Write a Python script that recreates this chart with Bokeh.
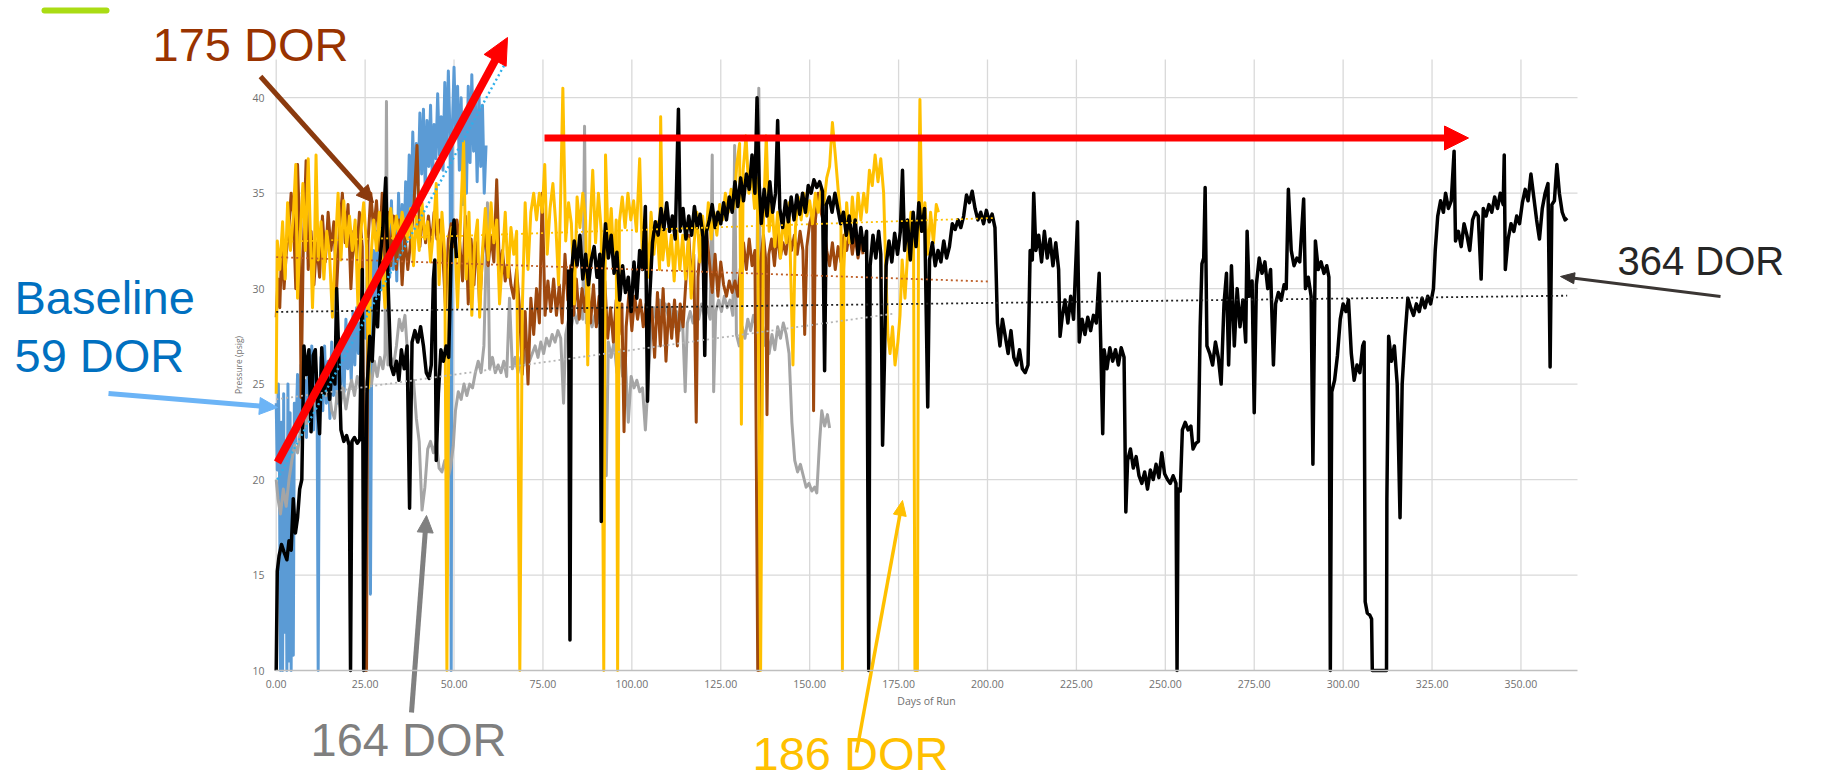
import math
from bokeh.plotting import figure
from bokeh.models import (Range1d, FixedTicker, NumeralTickFormatter, Label)
from bokeh.embed import file_html
from bokeh.resources import INLINE

NAN = float("nan")

# ---------------- data: (day of run, pressure psig) ----------------
blue_series = [
    (0.0, 24.0), (0.3, 20.5), (0.6, 25.0), (0.9, 21.0), (1.2, 10), (1.5, 23.0), (1.8, 10),
    (2.1, 24.5), (2.4, 12), (2.7, 22.0), (3.0, 10), (3.3, 25.0), (3.6, 10.5), (3.9, 23.5),
    (4.2, 10), (4.5, 22.5), (4.8, 10.8), (5.1, 24.0), (5.5, 22.0), (6.0, 25.5), (6.5, 22.5),
    (7.0, 26.0), (7.5, 23.0), (8.0, 25.2), (8.5, 22.2), (9.0, 26.5), (9.5, 23.2), (10.0, 27.0),
    (10.5, 22.6), (11.0, 25.8), (11.5, 24.0), (11.8, 10), (12.1, 23.0), (12.6, 26.4),
    (13.1, 23.6), (13.6, 27.0), (14.1, 24.0), (14.6, 26.2), (15.1, 23.2), (15.6, 27.2),
    (16.1, 24.4), (16.6, 26.6), (17.1, 24.0), (17.6, 27.4), (18.1, 25.0), (18.6, 27.0),
    (19.1, 24.6), (19.6, 28.4), (20.1, 25.8), (20.6, 27.6), (21.1, 25.2), (21.6, 28.8),
    (22.1, 26.0), (22.6, 29.0), (23.1, 26.6), (23.6, 28.2), (24.1, 27.0), (24.6, 29.4),
    (25.1, 27.4), (25.6, 30.6), (26.1, 28.0), (26.5, 14.0), (26.9, 29.0), (27.4, 32.0),
    (27.9, 28.6), (28.4, 33.0), (28.9, 29.4), (29.4, 32.4), (29.9, 30.0), (30.4, 34.0),
    (30.9, 29.2), (31.4, 33.2), (31.9, 30.6), (32.4, 34.6), (32.9, 31.0), (33.4, 33.6),
    (33.9, 30.4), (34.4, 35.0), (34.9, 31.6), (35.4, 34.4), (35.9, 32.0), (36.4, 35.6),
    (36.9, 33.2), (37.4, 37.0), (37.9, 33.8), (38.4, 38.2), (38.9, 34.6), (39.4, 37.6),
    (39.9, 35.4), (40.4, 39.2), (40.9, 36.0), (41.4, 39.4), (41.9, 35.2), (42.4, 38.8),
    (42.9, 36.4), (43.4, 39.6), (43.9, 35.6), (44.4, 38.6), (44.9, 36.8), (45.4, 40.2),
    (45.9, 37.0), (46.4, 39.0), (46.9, 36.2), (47.4, 40.8), (47.9, 37.4), (48.4, 41.4),
    (48.9, 37.8), (49.2, 10), (49.5, 38.2), (50.0, 41.6), (50.5, 38.0), (51.0, 40.6),
    (51.5, 36.2), (52.0, 40.0), (52.5, 34.4), (53.0, 39.2), (53.5, 35.0), (54.0, 40.6),
    (54.5, 36.6), (55.0, 41.2), (55.5, 37.2), (56.0, 39.8), (56.5, 35.6), (57.0, 40.4),
    (57.5, 36.4), (58.0, 39.6), (58.5, 35.0), (59.0, 37.5),
]

gray_series = [
    (0.0, 20.0), (0.5, 19.0), (1.2, 18.2), (2.0, 19.5), (2.8, 18.6), (3.6, 20.0), (4.4, 21.0),
    (5.2, 21.8), (6.0, 21.4), (6.8, 22.6), (7.6, 23.4), (8.4, 22.8), (9.2, 23.8), (10.0, 23.4),
    (10.8, 24.2), (11.6, 24.8), (12.4, 24.2), (13.2, 25.0), (14.0, 24.4), (14.8, 24.8),
    (15.6, 23.6), (16.4, 23.2), (17.2, 24.6), (18.0, 23.8), (18.8, 24.8), (19.6, 23.7),
    (20.4, 24.6), (21.2, 25.2), (22.0, 24.4), (22.8, 25.4), (23.6, 24.8), (24.4, 25.6),
    (25.2, 24.7), (26.0, 25.6), (26.8, 25.0), (27.6, 26.2), (28.4, 25.4), (29.2, 26.4),
    (30.0, 25.8), (30.6, 26.6), (31.0, 39.8), (31.4, 26.0), (32.2, 26.4), (33.0, 26.0),
    (33.8, 27.0), (34.6, 28.4), (35.4, 27.8), (36.2, 28.6), (37.0, 26.4), (37.8, 25.0),
    (38.6, 25.2), (39.4, 23.2), (40.2, 22.0), (41.0, 18.4), (41.8, 19.6), (42.6, 21.6),
    (43.4, 22.0), (44.2, 21.4), (45.0, 22.0), (45.8, 20.6), (46.6, 20.4), (47.4, 21.0),
    (48.2, 20.0), (49.0, 20.6), (49.8, 21.8), (50.4, 23.6), (51.2, 24.6), (52.0, 24.2),
    (52.8, 25.0), (53.6, 24.4), (54.4, 25.0), (55.2, 24.8), (56.0, 25.6), (56.8, 26.2),
    (57.6, 25.6), (58.4, 27.0), (59.4, 34.5), (60.0, 25.8), (60.8, 26.4), (61.6, 25.6),
    (62.4, 26.0), (63.2, 25.6), (64.0, 26.2), (64.8, 25.4), (65.6, 29.5), (66.4, 25.8),
    (67.2, 26.4), (68.0, 25.6), (68.8, 26.4), (69.6, 26.0), (70.4, 26.8), (71.2, 26.2),
    (72.0, 26.6), (72.8, 27.0), (73.6, 26.4), (74.4, 27.2), (75.2, 26.6), (76.0, 27.4),
    (76.8, 27.0), (77.6, 27.6), (78.4, 27.2), (79.2, 27.8), (80.0, 27.4), (80.8, 24.0),
    (81.4, 27.6), (82.2, 28.4), (83.0, 28.0), (83.8, 28.8), (84.6, 28.2), (85.4, 29.0),
    (86.2, 28.4), (86.7, 38.5), (87.2, 28.2), (88.0, 28.6), (88.8, 28.0), (89.6, 28.6),
    (90.4, 28.2), (91.2, 28.8), (92.0, 28.0), (92.8, 20.2), (93.4, 27.2), (94.2, 26.4),
    (95.0, 27.2), (95.8, 25.6), (96.6, 26.8), (97.4, 25.4), (98.2, 26.2), (99.0, 23.0),
    (99.8, 25.4), (100.6, 24.8), (101.4, 25.2), (102.2, 24.6), (103.0, 24.8), (103.8, 22.6),
    (104.6, 25.2), (105.4, 27.8), (106.2, 29.0), (107.0, 28.2), (107.8, 29.4), (108.6, 28.4),
    (109.4, 29.2), (110.2, 28.6), (111.0, 29.0), (111.8, 28.0), (112.6, 28.8), (113.4, 27.8),
    (114.2, 28.6), (115.0, 24.6), (115.6, 28.2), (116.4, 28.8), (117.2, 28.2), (118.0, 29.0),
    (118.8, 28.4), (119.6, 29.2), (120.4, 28.6), (121.2, 29.0), (122.0, 28.4), (122.6, 37.0),
    (123.0, 24.6), (123.6, 28.8), (124.4, 29.4), (125.2, 28.8), (126.0, 29.6), (126.8, 29.0),
    (127.6, 29.4), (128.4, 28.6), (128.9, 37.5), (129.4, 27.6), (130.2, 27.0), (131.0, 28.0),
    (131.8, 27.4), (132.6, 28.4), (133.4, 27.8), (134.2, 28.6), (135.0, 28.0), (135.7, 40.5),
    (136.2, 27.6), (137.0, 27.0), (137.8, 28.0), (138.6, 26.6), (139.4, 27.6), (140.2, 26.8),
    (141.0, 28.0), (141.8, 27.4), (142.6, 28.2), (143.4, 27.6), (144.2, 26.6), (145.0, 23.0),
    (145.8, 21.0), (146.6, 20.4), (147.4, 20.8), (148.2, 20.2), (149.0, 19.6), (149.8, 19.8),
    (150.6, 19.4), (151.4, 19.6), (152.0, 19.3), (152.8, 22.0), (153.4, 23.6), (154.2, 22.8),
    (155.0, 23.4), (155.6, 22.7),
]

brown_series = [
    (0.0, 28.5), (0.5, 30.5), (1.0, 29.0), (1.6, 32.5), (2.2, 30.0), (2.8, 31.8), (3.5, 33.0),
    (4.2, 35.0), (4.8, 34.0), (5.5, 30.0), (6.0, 36.5), (6.6, 33.0), (7.0, 24.3), (7.6, 32.0),
    (8.4, 36.7), (9.0, 31.0), (9.8, 33.0), (10.6, 30.2), (11.4, 32.4), (12.2, 30.6),
    (13.0, 33.8), (13.8, 31.4), (14.6, 34.0), (15.4, 32.0), (16.2, 33.5), (17.0, 30.0),
    (17.8, 33.2), (18.6, 35.0), (19.4, 32.4), (20.2, 34.4), (21.0, 30.0), (21.8, 33.0),
    (22.6, 31.6), (23.4, 34.0), (24.2, 32.2), (25.0, 10), (25.4, 10), (25.8, 32.4),
    (26.6, 35.0), (27.4, 33.0), (28.2, 34.6), (29.0, 32.0), (29.8, 35.0), (30.6, 31.4),
    (31.4, 34.0), (32.2, 31.2), (33.0, 33.8), (33.8, 31.0), (34.6, 33.6), (35.4, 30.2),
    (36.2, 32.8), (37.0, 31.0), (37.8, 32.5), (38.6, 34.0), (39.6, 37.5), (40.4, 32.2),
    (41.2, 34.0), (42.0, 32.4), (42.8, 33.8), (43.6, 32.2), (44.4, 34.0), (45.2, 32.6),
    (46.0, 33.6), (46.8, 32.0), (47.6, 29.0), (48.4, 32.6), (49.2, 33.4), (50.0, 32.2),
    (50.8, 33.6), (51.6, 32.4), (52.4, 30.4), (53.2, 33.8), (54.0, 29.2), (54.8, 32.6),
    (55.6, 30.2), (56.4, 33.0), (57.2, 29.0), (58.0, 31.8), (58.8, 33.0), (59.6, 31.2),
    (60.4, 32.8), (61.2, 31.4), (62.0, 35.7), (62.8, 30.8), (63.6, 32.0), (64.4, 30.4),
    (65.2, 31.6), (66.0, 30.2), (66.8, 29.5), (67.6, 31.0), (68.4, 29.0), (69.2, 25.5),
    (70.0, 28.8), (70.8, 25.0), (71.6, 29.5), (72.4, 27.6), (73.2, 30.0), (74.0, 28.2),
    (74.8, 35.0), (75.6, 28.6), (76.4, 30.4), (77.2, 28.8), (78.0, 30.5), (78.8, 28.6),
    (79.6, 30.2), (80.4, 28.2), (81.2, 31.8), (82.0, 29.4), (82.8, 31.2), (83.6, 28.6),
    (84.4, 30.5), (85.2, 28.4), (86.0, 30.0), (86.8, 28.8), (87.6, 30.4), (88.4, 28.2),
    (89.2, 30.2), (90.0, 28.0), (90.8, 29.6), (91.6, 28.4), (92.4, 30.4), (93.2, 27.4),
    (94.0, 29.0), (94.8, 27.2), (95.6, 29.4), (96.4, 27.6), (97.2, 29.2), (97.8, 22.5),
    (98.4, 28.0), (99.2, 29.8), (100.0, 27.8), (100.8, 29.6), (101.6, 28.4), (102.4, 29.4),
    (103.2, 28.0), (104.0, 29.2), (104.8, 28.2), (105.6, 29.0), (106.4, 26.4), (107.2, 29.8),
    (108.0, 27.0), (108.8, 30.0), (109.6, 26.2), (110.4, 29.2), (111.2, 27.4), (112.0, 29.4),
    (112.8, 27.0), (113.6, 29.2), (114.4, 28.0), (115.2, 30.4), (116.0, 32.8), (116.8, 30.2),
    (117.4, 31.8), (118.1, 23.0), (118.6, 30.6), (119.4, 32.8), (120.2, 31.0), (121.0, 33.0),
    (121.8, 31.4), (122.6, 29.8), (123.4, 31.8), (124.2, 29.6), (125.0, 31.4), (125.8, 30.2),
    (126.6, 29.6), (127.4, 30.4), (128.2, 29.8), (129.0, 30.4), (129.8, 29.6), (130.6, 31.2),
    (131.4, 32.4), (132.2, 31.0), (133.0, 32.6), (133.8, 31.2), (134.6, 32.0), (135.4, 10),
    (135.8, 10), (136.2, 31.4), (137.0, 32.8), (137.6, 31.6), (138.0, 23.4), (138.5, 31.8),
    (139.3, 32.6), (140.1, 31.2), (140.9, 33.0), (141.7, 31.6), (142.5, 32.4), (143.3, 31.8),
    (144.1, 33.0), (144.9, 32.0), (145.7, 32.8), (146.5, 31.8), (147.3, 33.0), (148.1, 32.0),
    (148.6, 27.6), (149.2, 32.2), (150.0, 33.4), (150.8, 34.0), (151.1, 23.6), (151.6, 33.6),
    (152.4, 35.0), (153.2, 34.0), (154.0, 33.4), (154.8, 32.0), (155.6, 31.2), (156.4, 32.4),
    (157.2, 31.0), (158.0, 32.2), (158.8, 31.4), (159.6, 32.8), (160.4, 32.0), (161.2, 33.0),
    (162.0, 31.8), (162.8, 32.8), (163.6, 31.6), (164.4, 32.6), (165.0, 31.8),
]

gold_series = [
    (0.0, 24.5), (0.3, 32.5), (1.0, 31.0), (1.8, 33.5), (2.5, 30.5), (3.2, 34.5), (4.0, 32.0),
    (4.8, 33.8), (5.5, 36.5), (6.0, 29.5), (6.8, 33.0), (7.5, 35.5), (8.2, 32.0), (9.0, 36.8),
    (9.6, 33.0), (10.2, 29.0), (10.8, 32.5), (11.2, 37.0), (11.8, 31.5), (12.6, 33.5),
    (13.4, 30.5), (14.2, 33.0), (15.0, 31.8), (15.8, 28.5), (16.6, 32.0), (17.4, 35.0),
    (18.2, 31.5), (19.0, 34.6), (19.8, 32.2), (20.6, 33.8), (21.4, 32.0), (22.2, 33.6),
    (23.0, 29.0), (23.8, 33.0), (24.6, 34.5), (25.4, 32.2), (26.0, 24.8), (26.6, 31.5),
    (27.4, 33.6), (28.2, 32.0), (29.0, 34.0), (29.8, 31.2), (30.6, 29.0), (31.4, 33.0),
    (32.2, 34.2), (33.0, 32.6), (33.8, 33.8), (34.6, 32.5), (35.4, 34.0), (36.2, 33.0),
    (37.0, 32.6), (37.8, 34.2), (38.6, 31.2), (39.4, 33.8), (40.2, 32.0), (41.0, 34.5),
    (41.8, 32.6), (42.6, 33.5), (43.4, 31.4), (44.2, 33.0), (45.0, 35.5), (45.8, 30.2),
    (46.6, 34.0), (47.4, 31.8), (48.0, 10), (48.6, 31.0), (49.4, 33.2), (50.2, 32.8),
    (51.0, 29.0), (51.8, 33.4), (52.7, 37.7), (53.4, 30.5), (54.2, 34.0), (55.0, 28.6),
    (55.8, 32.4), (56.6, 33.6), (57.2, 28.5), (58.0, 32.0), (58.8, 34.2), (59.6, 31.5),
    (60.4, 34.5), (61.2, 32.4), (62.0, 33.6), (62.8, 29.2), (63.6, 31.5), (64.4, 34.0),
    (65.2, 30.6), (66.0, 33.2), (66.8, 31.8), (67.6, 33.0), (68.5, 10), (69.2, 29.0),
    (70.0, 34.5), (70.8, 31.0), (71.6, 34.0), (72.4, 35.0), (73.2, 33.6), (74.0, 35.0),
    (74.8, 34.0), (75.5, 36.5), (76.2, 31.8), (77.0, 34.2), (77.8, 35.5), (78.6, 33.4),
    (79.4, 30.2), (80.0, 35.0), (80.6, 40.5), (81.4, 32.5), (82.2, 34.5), (83.0, 33.4),
    (83.8, 29.2), (84.6, 34.8), (85.4, 33.2), (86.2, 35.0), (87.0, 33.6), (87.6, 26.0),
    (88.2, 33.0), (89.0, 36.2), (89.8, 32.4), (90.6, 35.0), (91.4, 33.0), (92.1, 10),
    (92.6, 37.0), (93.4, 32.0), (94.2, 34.2), (95.0, 31.2), (95.6, 33.6), (96.0, 10),
    (96.5, 33.5), (97.3, 34.8), (98.1, 33.2), (98.9, 35.0), (99.7, 33.6), (100.5, 34.6),
    (101.3, 33.0), (102.2, 36.8), (103.0, 31.2), (103.8, 33.8), (104.6, 30.6), (105.4, 34.0),
    (106.2, 31.8), (107.0, 33.5), (107.8, 31.0), (108.1, 39.0), (108.7, 31.5), (109.5, 33.0),
    (110.3, 31.2), (111.1, 32.8), (111.9, 30.4), (112.7, 33.0), (113.5, 31.0), (114.3, 32.8),
    (115.1, 30.5), (115.9, 32.6), (116.7, 29.5), (117.5, 32.4), (118.3, 34.0), (119.1, 31.4),
    (119.9, 33.8), (120.7, 32.2), (121.5, 34.5), (122.3, 32.6), (123.1, 34.0), (123.9, 32.8),
    (124.7, 34.4), (125.5, 33.6), (126.3, 35.0), (127.1, 34.0), (127.9, 35.2), (128.7, 34.2),
    (129.5, 36.5), (130.3, 37.6), (130.8, 22.9), (131.3, 36.2), (132.1, 38.0), (132.9, 35.0),
    (133.7, 36.0), (134.5, 34.2), (135.3, 35.8), (136.2, 10), (137.0, 33.6), (137.8, 38.0),
    (138.6, 33.0), (139.4, 34.4), (140.2, 32.2), (141.0, 34.0), (141.8, 31.6), (142.6, 33.8),
    (143.4, 32.4), (144.2, 34.5), (145.3, 26.0), (146.0, 33.2), (146.8, 34.8), (147.6, 33.6),
    (148.4, 35.0), (149.2, 33.8), (150.0, 34.6), (150.8, 33.4), (151.6, 35.0), (152.4, 34.0),
    (153.2, 35.2), (154.0, 34.4), (154.8, 35.8), (155.6, 36.4), (156.4, 38.7), (157.2, 37.0),
    (158.0, 35.2), (158.8, 33.6), (159.2, 10), (159.6, 31.0), (160.4, 34.5), (161.2, 32.4),
    (162.0, 34.8), (162.8, 33.0), (163.6, 35.0), (164.4, 33.6), (165.2, 35.0), (166.0, 34.0),
    (166.8, 36.2), (167.6, 35.4), (168.4, 37.0), (169.2, 35.6), (170.0, 36.8), (170.8, 35.0),
    (171.4, 31.0), (172.0, 27.6), (172.6, 26.6), (173.3, 28.0), (174.0, 26.0), (174.8, 27.2),
    (175.4, 28.6), (176.0, 31.5), (176.8, 29.5), (177.6, 32.0), (178.5, 34.0), (179.2, 33.0),
    (179.6, 10), (180.3, 10), (180.6, 33.5), (181.0, 39.9), (181.6, 33.0), (182.4, 34.5),
    (183.2, 31.8), (184.0, 34.0), (184.8, 32.4), (185.6, 34.4), (186.2, 34.0),
]

black_series = [
    (0.0, 10), (0.3, 15.2), (0.8, 16.0), (1.5, 16.6), (2.2, 16.2), (3.0, 15.8), (3.6, 16.8),
    (4.2, 16.3), (4.8, 19.0), (5.4, 17.2), (6.0, 18.0), (6.6, 19.5), (7.2, 20.0), (7.8, 27.0),
    (8.5, 25.5), (9.2, 26.8), (9.8, 22.5), (10.4, 26.5), (11.0, 26.8), (11.6, 24.0),
    (12.2, 22.4), (12.8, 26.9), (13.5, 24.5), (14.2, 25.8), (15.0, 24.2), (15.8, 26.0),
    (16.5, 25.0), (17.0, 30.0), (17.6, 26.5), (18.2, 22.6), (19.0, 22.0), (19.8, 22.3),
    (20.5, 21.8), (20.9, 10), (21.3, 22.0), (22.0, 22.2), (22.8, 21.9), (23.5, 22.1),
    (24.2, 31.0), (24.6, 10), (25.5, 24.5), (26.3, 27.5), (27.0, 26.2), (27.8, 29.5),
    (28.5, 28.0), (29.2, 31.5), (30.0, 33.2), (30.8, 35.8), (31.5, 30.0), (32.2, 26.0),
    (33.0, 25.5), (33.8, 26.2), (34.5, 25.2), (35.2, 26.8), (36.0, 25.8), (36.8, 27.0),
    (37.5, 18.5), (38.2, 27.2), (39.0, 27.8), (39.8, 27.2), (40.6, 28.0), (41.4, 27.0),
    (42.2, 25.6), (43.0, 25.3), (43.6, 26.0), (44.2, 30.5), (44.6, 31.5), (45.0, 21.0),
    (45.6, 24.5), (46.3, 26.8), (47.0, 26.2), (47.8, 27.0), (48.5, 26.4), (49.2, 32.0),
    (50.0, 33.6), (50.7, 31.6), (51.2, NAN),
    (82.2, 31.0), (82.6, 11.6), (83.0, 30.8), (83.8, 32.5), (84.6, 31.2), (85.4, 32.8),
    (86.2, 30.5), (87.0, 31.8), (87.8, 30.2), (88.6, 31.5), (89.4, 32.2), (90.2, 30.6),
    (91.0, 31.8), (91.4, 17.8), (91.8, 31.0), (92.6, 33.4), (93.4, 31.6), (94.2, 32.8),
    (95.0, 30.8), (95.8, 31.9), (96.6, 29.4), (97.4, 31.2), (98.2, 29.8), (99.0, 30.6),
    (99.8, 28.8), (100.6, 31.4), (101.4, 29.5), (102.2, 32.0), (103.0, 31.0), (103.8, 34.3),
    (104.4, 24.1), (105.0, 29.5), (105.8, 32.4), (106.6, 33.5), (107.4, 32.8), (108.2, 34.2),
    (109.0, 33.1), (109.8, 34.5), (110.6, 33.0), (111.4, 33.8), (112.2, 32.6), (113.1, 39.4),
    (113.6, 33.0), (114.4, 34.2), (115.2, 32.6), (116.0, 33.8), (116.8, 32.8), (117.6, 34.3),
    (118.4, 33.2), (119.2, 33.9), (120.0, 32.7), (120.5, 26.5), (121.0, 33.0), (121.8, 33.6),
    (122.6, 34.4), (123.4, 33.2), (124.2, 34.0), (125.0, 33.4), (125.8, 34.5), (126.6, 33.6),
    (127.4, 34.8), (128.2, 34.0), (129.0, 35.6), (129.8, 34.3), (130.6, 35.8), (131.4, 34.6),
    (132.2, 36.0), (133.0, 35.2), (133.8, 37.0), (134.6, 35.0), (135.2, 40.0), (135.8, 35.5),
    (136.4, 33.4), (137.2, 35.2), (138.0, 33.8), (138.8, 35.6), (139.6, 34.0), (140.4, 35.0),
    (141.0, 38.8), (141.6, 34.2), (142.4, 33.2), (143.2, 34.6), (144.0, 33.5), (144.8, 34.8),
    (145.6, 33.6), (146.4, 34.9), (147.2, 33.9), (148.0, 35.0), (148.8, 34.0), (149.6, 35.4),
    (150.4, 35.0), (151.2, 35.7), (152.0, 35.3), (152.8, 35.6), (153.6, 35.1), (154.2, 25.7),
    (154.7, 34.4), (155.5, 34.8), (156.3, 34.0), (157.1, 35.0), (157.9, 34.2), (158.7, 33.4),
    (159.5, 34.0), (160.3, 32.8), (161.1, 33.8), (162.0, 32.4), (162.8, 33.6), (163.6, 31.8),
    (164.4, 33.2), (165.2, 32.0), (166.0, 33.0), (166.6, 10), (167.0, 31.2), (167.8, 32.8),
    (168.6, 31.6), (169.4, 33.0), (170.0, 31.8), (170.5, 21.8), (171.0, 26.0), (171.5, 31.2),
    (172.3, 32.5), (173.1, 31.4), (173.9, 32.9), (174.7, 31.8), (175.5, 33.0), (176.1, 36.2),
    (176.7, 32.0), (177.5, 33.6), (178.3, 31.5), (179.1, 34.0), (179.9, 32.2), (180.7, 34.5),
    (181.5, 33.0), (182.3, 34.2), (183.2, 23.8), (183.7, 31.5), (184.5, 32.4), (185.3, 31.2),
    (186.1, 32.0), (186.9, 31.4), (187.7, 32.5), (188.5, 31.6), (189.3, 32.2), (190.1, 33.4),
    (190.9, 33.1), (191.7, 33.6), (192.5, 33.2), (193.3, 33.8), (194.1, 34.9), (194.9, 34.5),
    (195.7, 35.1), (196.5, 34.2), (197.3, 33.6), (198.1, 34.0), (198.9, 33.4), (199.7, 34.1),
    (200.5, 33.5), (201.3, 33.9), (202.1, 33.2), (202.8, 28.2), (203.5, 27.0), (204.2, 28.4),
    (205.0, 27.5), (205.8, 26.6), (206.6, 27.8), (207.4, 26.4), (208.2, 26.0), (209.0, 26.8),
    (209.8, 25.8), (210.6, 25.6), (211.4, 26.0), (212.0, 32.0), (212.6, 31.5), (213.0, 35.0),
    (213.6, 32.0), (214.4, 32.8), (215.2, 31.4), (216.0, 33.0), (216.8, 31.6), (217.6, 32.6),
    (218.4, 31.2), (219.2, 32.4), (220.0, 31.0), (220.4, 27.5), (221.0, 28.5), (221.8, 29.4),
    (222.6, 28.2), (223.4, 29.6), (224.2, 28.4), (225.3, 33.5), (225.8, 27.2), (226.6, 28.4),
    (227.4, 27.6), (228.2, 28.5), (229.0, 27.8), (229.8, 28.6), (230.6, 28.2), (231.4, 30.8),
    (232.4, 22.4), (232.8, 26.8), (233.6, 25.8), (234.4, 26.9), (235.2, 26.2), (236.0, 26.8),
    (236.8, 26.0), (237.6, 26.9), (238.4, 26.4), (238.9, 18.3), (239.4, 21.0), (240.2, 21.6),
    (241.0, 20.6), (241.8, 21.2), (242.6, 20.2), (243.4, 19.8), (244.2, 20.4), (245.0, 19.5),
    (245.8, 20.5), (246.6, 20.0), (247.4, 20.8), (248.2, 20.1), (249.0, 21.4), (249.8, 20.3),
    (250.6, 20.0), (251.4, 19.8), (252.2, 20.2), (253.0, 19.8), (253.3, 10), (253.6, 19.5),
    (254.2, 19.4), (254.8, 22.6), (255.6, 23.0), (256.4, 22.6), (257.2, 22.8), (257.8, 21.6),
    (258.6, 21.9), (259.3, 22.0), (259.8, 28.0), (260.3, 31.3), (260.8, 31.6), (261.2, 35.3),
    (261.7, 27.0), (262.5, 26.6), (263.3, 26.0), (264.1, 27.2), (264.9, 26.4), (265.7, 25.0),
    (266.5, 29.2), (267.2, 30.8), (267.8, 26.0), (268.6, 31.2), (269.4, 27.0), (270.2, 30.0),
    (271.0, 28.0), (271.8, 29.4), (272.6, 27.2), (273.0, 33.0), (273.6, 29.6), (274.4, 30.4),
    (275.0, 23.5), (275.6, 30.2), (276.4, 31.6), (277.2, 30.8), (278.0, 31.4), (278.8, 30.0),
    (279.6, 31.0), (280.4, 26.0), (281.0, 29.2), (281.8, 29.8), (282.6, 29.4), (283.4, 30.2),
    (284.0, 30.0), (284.6, 35.2), (285.4, 32.0), (286.2, 31.2), (287.0, 31.6), (287.8, 31.4),
    (288.9, 34.7), (289.4, 30.0), (290.2, 30.6), (291.0, 29.6), (291.5, 20.8), (292.2, 32.5),
    (293.0, 31.0), (293.8, 31.4), (294.6, 30.8), (295.4, 31.2), (296.0, 30.6), (296.4, 10),
    (296.8, 24.6), (297.6, 25.2), (298.4, 26.5), (299.2, 28.4), (300.0, 29.2), (300.8, 28.8),
    (301.5, 29.4), (302.3, 26.6), (303.1, 25.2), (303.9, 26.0), (304.7, 25.6), (305.5, 27.0),
    (305.9, 27.2), (306.2, 13.6), (306.8, 13.0), (307.5, 12.9), (308.0, 12.7), (308.2, 10),
    (312.2, 10), (312.3, 19.0), (312.8, 27.5), (313.6, 26.2), (314.4, 27.0), (315.2, 25.0),
    (316.0, 18.0), (316.6, 25.0), (317.4, 27.5), (318.2, 29.5), (319.0, 29.0), (319.8, 28.6),
    (320.6, 29.2), (321.4, 28.8), (322.2, 29.5), (323.0, 29.0), (323.8, 29.6), (324.6, 29.2),
    (325.4, 30.0), (325.9, 32.0), (326.6, 33.8), (327.4, 34.6), (328.2, 34.0), (328.8, 35.0),
    (329.6, 34.2), (330.4, 34.6), (331.2, 37.2), (331.6, 32.5), (332.4, 33.0), (333.2, 32.2),
    (334.0, 33.4), (334.8, 32.8), (335.6, 32.0), (336.4, 33.6), (337.2, 34.0), (338.0, 33.8),
    (338.8, 30.5), (339.4, 34.2), (340.2, 33.8), (341.0, 34.4), (341.8, 34.0), (342.6, 34.8),
    (343.4, 34.2), (344.2, 35.0), (345.0, 34.4), (345.3, 37.0), (345.6, 31.0), (346.4, 32.6),
    (347.2, 33.4), (348.0, 33.0), (348.8, 33.8), (349.6, 33.4), (350.4, 34.5), (351.2, 35.2),
    (352.0, 34.6), (352.8, 36.0), (353.6, 34.8), (354.4, 33.6), (355.2, 32.6), (356.0, 34.2),
    (356.8, 35.0), (357.6, 35.5), (358.2, 25.9), (358.7, 34.4), (359.4, 34.6), (360.1, 36.5),
    (360.8, 35.0), (361.6, 34.0), (362.4, 33.6), (363.0, 33.7),
]

# trendline end points (day, psig), as drawn in the chart
blue_trend = [(0.3, 20.0), (64.4, 41.8)]
gray_trend = [(0.0, 24.2), (174.0, 28.7)]
brown_trend = [(0.0, 31.65), (200.5, 30.37)]
gold_trend = [(0.0, 32.44), (202.0, 33.7)]
black_trend = [(0.0, 28.78), (363.0, 29.63)]

x_ticks = [0, 25, 50, 75, 100, 125, 150, 175, 200, 225, 250, 275, 300, 325, 350]
y_ticks = [10, 15, 20, 25, 30, 35, 40]

# ---------------- geometry ----------------
# chart area on the page (px) and its data extent
CH_L, CH_R, CH_T, CH_B = 275, 1577, 59, 670
X0, X1 = -0.2, 365.9
Y0, Y1 = 10, 42
W, H = 1835, 781          # canvas drawn from the page's top-left corner
OFF = 0
SX = (CH_R - CH_L) / (X1 - X0)
SY = (CH_B - CH_T) / (Y1 - Y0)

def dx(px):
    return X0 + (px - CH_L) / SX

def dy(py):
    return Y0 + (CH_B - py) / SY

p = figure(output_backend="svg", toolbar_location=None,
           frame_width=W, frame_height=H,
           min_border_left=0, min_border_right=0, min_border_top=0, min_border_bottom=0,
           x_range=Range1d(dx(OFF), dx(OFF + W)), y_range=Range1d(dy(OFF + H), dy(OFF)),
           background_fill_color="white", border_fill_color="white")
p.outline_line_color = None
p.xgrid.visible = False
p.ygrid.visible = False

# axes drawn at the chart's edges
p.xaxis.fixed_location = Y0
p.yaxis.fixed_location = X0
p.xaxis.bounds = (X0, X1)
p.yaxis.bounds = (Y0, Y1)
p.xaxis.ticker = FixedTicker(ticks=x_ticks)
p.yaxis.ticker = FixedTicker(ticks=y_ticks)
p.xaxis.formatter = NumeralTickFormatter(format="0.00")
for ax in (p.xaxis, p.yaxis):
    ax.major_tick_line_color = None
    ax.minor_tick_line_color = None
    ax.major_tick_out = 0
    ax.major_tick_in = 0
    ax.minor_tick_out = 0
    ax.minor_tick_in = 0
    ax.major_label_text_font = "Open Sans"
    ax.major_label_text_font_size = "10.5px"
    ax.major_label_text_color = "#707070"
    ax.axis_label_text_font = "Open Sans"
    ax.axis_label_text_font_style = "normal"
    ax.axis_label_text_color = "#707070"
p.xaxis.axis_line_color = "#BFBFBF"
p.xaxis.axis_line_width = 1.3
p.yaxis.axis_line_color = None
p.xaxis.major_label_standoff = 9
p.yaxis.major_label_standoff = 11
p.xaxis.axis_label = "Days of Run"
p.xaxis.axis_label_text_font_size = "10.5px"
p.xaxis.axis_label_standoff = 3
p.yaxis.axis_label = "Pressure (psig)"
p.yaxis.axis_label_text_font_size = "8.5px"
p.yaxis.axis_label_standoff = 5

# gridlines of the chart area, one per tick
p.segment(x0=x_ticks, y0=[Y0] * len(x_ticks), x1=x_ticks, y1=[Y1] * len(x_ticks),
          line_color="#D9D9D9", line_width=1.3)
gy = y_ticks[1:]
p.segment(x0=[X0] * len(gy), y0=gy, x1=[X1] * len(gy), y1=gy,
          line_color="#D9D9D9", line_width=1.3)

def draw(series, color, width=3.0):
    xs = [d for d, _ in series]
    ys = [v for _, v in series]
    p.line(xs, ys, line_color=color, line_width=width, line_join="round")

draw(blue_series, "#5B9BD5")
draw(gray_series, "#A5A5A5")
draw(brown_series, "#9E480E")
draw(gold_series, "#FFC000")
draw(black_series, "#000000", 3.5)

def trend(series, color, width=1.8, dash="2 3"):
    xs = [d for d, _ in series]
    ys = [v for _, v in series]
    p.line(xs, ys, line_color=color, line_width=width, line_dash=dash)

trend(gray_trend, "#B5B5B5")
trend(brown_trend, "#BE5F28")
trend(gold_trend, "#FFC000")
trend(black_trend, "#222222")
trend(blue_trend, "#2FB0EA", 2.4, "2 3")

# ---------------- annotations (positions in page pixels) ----------------
def arrow(x0, y0, x1, y1, color, width, head_len=0, head_w=0):
    """Straight arrow from (x0, y0) to the tip (x1, y1), page pixels."""
    ux, uy = x1 - x0, y1 - y0
    n = math.hypot(ux, uy)
    ux, uy = ux / n, uy / n
    if head_len:
        bx, by = x1 - ux * head_len, y1 - uy * head_len
        ex, ey = bx + ux * 2, by + uy * 2
    else:
        ex, ey = x1, y1
    p.line([dx(x0), dx(ex)], [dy(y0), dy(ey)], line_color=color, line_width=width,
           line_cap="butt" if head_len else "round")
    if head_len:
        qx, qy = -uy * head_w / 2, ux * head_w / 2
        hx = [x1, bx + qx, bx - qx]
        hy = [y1, by + qy, by - qy]
        p.patch([dx(v) for v in hx], [dy(v) for v in hy], fill_color=color,
                line_color=color, line_width=1, line_join="miter")

def label(x, y, text, color, size):
    # y is the wanted baseline on the page; Bokeh's alphabetic anchor sits ~0.36 em lower
    px = float(size.rstrip("px"))
    p.add_layout(Label(x=dx(x), y=dy(y - 0.36 * px), text=text, text_color=color,
                       text_font="Liberation Sans", text_font_size=size,
                       text_align="left", text_baseline="alphabetic"))

arrow(44, 10, 106, 10, "#AADC14", 6)
arrow(260, 76, 373, 202, "#8B3A0E", 5, 17, 16)
arrow(108, 393, 277, 407, "#6CB4F6", 5, 18, 17)
arrow(411, 712, 426, 515, "#808080", 5, 17, 16)
arrow(856, 752, 902, 500, "#FFC000", 3.5, 15, 13)
arrow(1720, 296, 1560, 276, "#3B3634", 3, 14, 11)
arrow(277, 462, 507, 37, "#FF0000", 8, 26, 25)
arrow(544, 137.5, 1468, 137.5, "#FF0000", 7, 24, 24)

label(152, 61, "175 DOR", "#993300", "47px")
label(14, 314, "Baseline", "#0070C0", "47px")
label(14, 372, "59 DOR", "#0070C0", "47px")
label(310, 756, "164 DOR", "#7F7F7F", "47px")
label(752, 770, "186 DOR", "#FFC000", "47px")
label(1617, 275, "364 DOR", "#262626", "40px")

open("out.html", "w").write(file_html(p, INLINE))
